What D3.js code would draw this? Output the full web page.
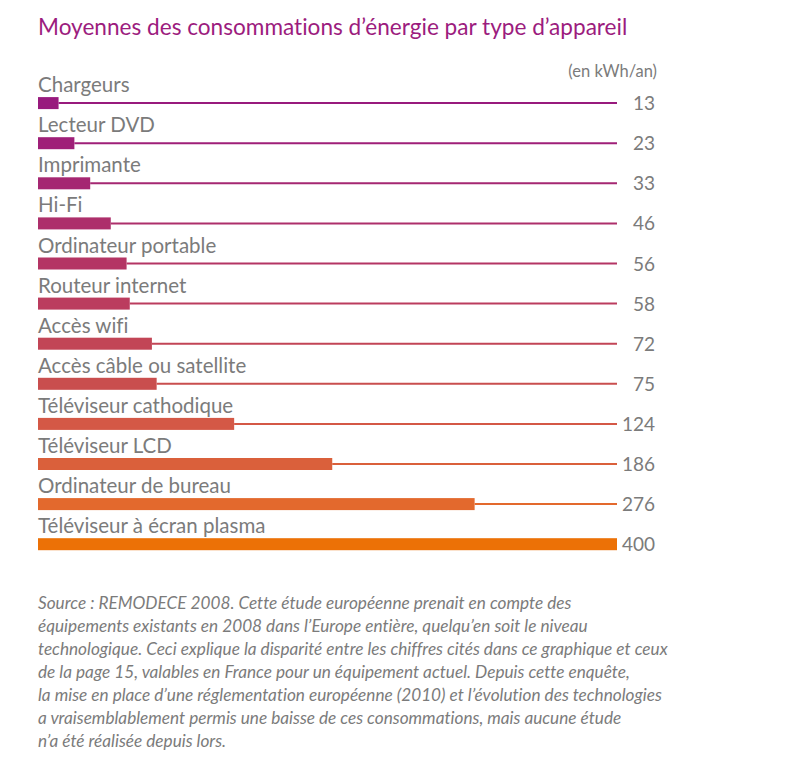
<!DOCTYPE html>
<html>
<head>
<meta charset="utf-8">
<script src="https://cdn.jsdelivr.net/npm/d3@7"></script>
<style>
  body { margin: 0; background: #fff; }
  text { font-family: Lato, "Open Sans", sans-serif; font-variant-ligatures: none; }
</style>
</head>
<body>
<div id="chart"></div>
<script>
// data
var appareils = [
    'Chargeurs', 'Lecteur DVD', 'Imprimante', 'Hi-Fi', 'Ordinateur portable',
    'Routeur internet', 'Accès wifi', 'Accès câble ou satellite',
    'Téléviseur cathodique', 'Téléviseur LCD', 'Ordinateur de bureau',
    'Téléviseur à écran plasma'
];
var conso = [13, 23, 33, 46, 56, 58, 72, 75, 124, 186, 276, 400];
var couleurs = [
    '#981a7d', '#9f1f78', '#a52772', '#ad2f6b', '#b43564', '#bb3c5e',
    '#c24556', '#c94e4e', '#d45846', '#da603b', '#e3692d', '#ec7106'
];
var TITRE = 'Moyennes des consommations d’énergie par type d’appareil';
var UNITE = '(en kWh/an)';
var NOTE = [
    'Source : REMODECE 2008. Cette étude européenne prenait en compte des',
    'équipements existants en 2008 dans l’Europe entière, quelqu’en soit le niveau',
    'technologique. Ceci explique la disparité entre les chiffres cités dans ce graphique et ceux',
    'de la page 15, valables en France pour un équipement actuel. Depuis cette enquête,',
    'la mise en place d’une réglementation européenne (2010) et l’évolution des technologies',
    'a vraisemblablement permis une baisse de ces consommations, mais aucune étude',
    'n’a été réalisée depuis lors.'
];

var WIDTH = 787, HEIGHT = 772;
var X0 = 38, X1 = 617;
var BAR_H = 12;
var GRIS = '#7b7b7b';

// the plasma bar is cut at the end of the line in the original
var sx = d3.scaleLinear()
    .domain([0, 366])
    .range([X0, X1])
    .clamp(true);
var sy = d3.scaleBand()
    .domain(appareils)
    .range([69, 550.2])
    .paddingInner(0)
    .paddingOuter(0);
var col = d3.scaleOrdinal().domain(appareils).range(couleurs);

var svg = d3.select('#chart').append('svg')
    .attr('width', WIDTH)
    .attr('height', HEIGHT);

svg.append('text')
    .attr('x', X0)
    .attr('y', 35)
    .attr('fill', '#9c1c7e')
    .style('font-size', '22.6px')
    .text(TITRE);

svg.append('text')
    .attr('x', 657)
    .attr('y', 77)
    .attr('text-anchor', 'end')
    .attr('fill', GRIS)
    .style('font-size', '16.5px')
    .text(UNITE);

var rows = svg.selectAll('.row')
    .data(appareils)
    .enter().append('g')
    .attr('class', 'row')
    .attr('transform', function(d) { return 'translate(0,' + (sy(d) + sy.bandwidth() - BAR_H) + ')'; });

// thin line up to the value
rows.append('line')
    .attr('x1', function(d, i) { return sx(conso[i]); })
    .attr('x2', X1)
    .attr('y1', BAR_H / 2)
    .attr('y2', BAR_H / 2)
    .attr('stroke', function(d) { return col(d); })
    .attr('stroke-width', 2);

rows.append('rect')
    .attr('x', X0)
    .attr('y', 0)
    .attr('width', function(d, i) { return sx(conso[i]) - X0; })
    .attr('height', BAR_H)
    .attr('fill', function(d) { return col(d); });

rows.append('text')
    .attr('x', X0)
    .attr('y', -5)
    .attr('fill', GRIS)
    .style('font-size', '20.5px')
    .text(function(d) { return d; });

rows.append('text')
    .attr('x', 655)
    .attr('y', 13)
    .attr('text-anchor', 'end')
    .attr('fill', GRIS)
    .style('font-size', '19px')
    .text(function(d, i) { return conso[i]; });

svg.append('g')
    .selectAll('text')
    .data(NOTE)
    .enter().append('text')
    .attr('x', X0)
    .attr('y', function(d, i) { return 609 + i * 23; })
    .attr('fill', GRIS)
    .style('font-size', '17.2px')
    .style('font-style', 'italic')
    .text(function(d) { return d; });
</script>
</body>
</html>
